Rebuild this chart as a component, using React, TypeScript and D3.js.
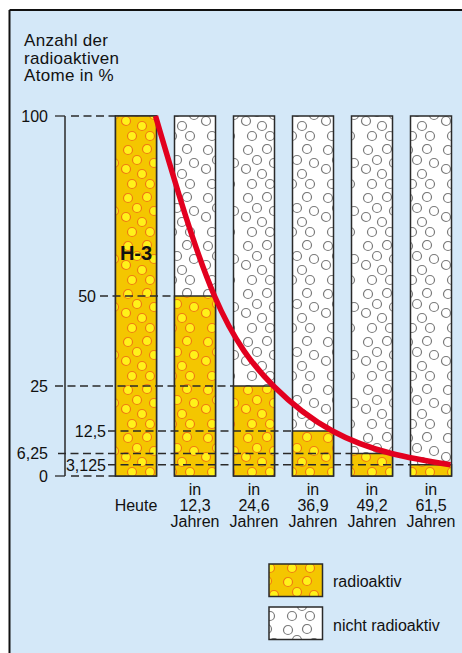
import React from "react";
import * as d3 from "d3";

const periods = ["Heute", "12,3", "24,6", "36,9", "49,2", "61,5"];
const radioactive = [100, 50, 25, 12.5, 6.25, 3.125];
const tickValues = [100, 50, 25, 12.5, 6.25, 3.125, 0];
const tickLabels = ["100", "50", "25", "12,5", "6,25", "3,125", "0"];
const titleLines = ["Anzahl der", "radioaktiven", "Atome in %"];
const legendItems = ["radioaktiv", "nicht radioaktiv"];
const isotope = "H-3";

const W = 462;
const H = 653;
const FONT = "'Liberation Sans', Arial, Helvetica, sans-serif";
const BG = "#d4e8f8";
const YELLOW = "#f4c600";
const DOT_FILL = "#fff21a";
const DOT_STROKE = "#f07a10";
const GRAY_DOT = "#7a7a7a";
const DARK = "#2a2a2a";
const RED = "#e2001f";

const dotPos: [number, number][] = [
  [8, 6], [27, 5], [17, 16], [34, 19], [6, 25], [22, 30], [12, 40], [30, 40],
];

// per-tick layout: label anchor end x, dash start x
const tickLayout: Record<string, { lx: number; dx: number; solid?: boolean }> = {
  "100": { lx: 48, dx: 55, solid: true },
  "0": { lx: 48, dx: 55, solid: true },
  "25": { lx: 48, dx: 55 },
  "6,25": { lx: 48, dx: 58 },
  "50": { lx: 96, dx: 100 },
  "12,5": { lx: 106, dx: 108 },
  "3,125": { lx: 106, dx: 108 },
};

function Dots({ fill, stroke }: { fill: string; stroke: string }) {
  return (
    <>
      {dotPos.map(([cx, cy], i) => (
        <g key={i}>
          {[-40, 0, 40].map((ox) =>
            [-48, 0, 48].map((oy) => (
              <circle
                key={ox + "_" + oy}
                cx={cx + ox}
                cy={cy + oy}
                r={4.5}
                fill={fill}
                stroke={stroke}
                strokeWidth={1.2}
              />
            ))
          )}
        </g>
      ))}
    </>
  );
}

export default function App() {
  const x = d3
    .scaleBand<string>()
    .domain(periods)
    .range([115.5, 451.5])
    .paddingInner(18 / 59)
    .paddingOuter(0);
  const y = d3.scaleLinear().domain([0, 100]).range([476, 116]);
  const bw = x.bandwidth();

  const curvePts: [number, number][] = periods.map((p, i) => [
    (x(p) as number) + bw - 1,
    y(radioactive[i]),
  ]);
  const line = d3.line().curve(d3.curveNatural)(curvePts) || "";

  const barForValue = (v: number) => {
    const i = radioactive.indexOf(v);
    return i < 0 ? 0 : i;
  };

  const axisX = 65;

  return (
    <svg
      width={W}
      height={H}
      style={{ position: "absolute", left: 0, top: 0, background: "#fff" }}
      fontFamily={FONT}
    >
      <defs>
        <pattern id="radio" patternUnits="userSpaceOnUse" width={40} height={48}>
          <rect width={40} height={48} fill={YELLOW} />
          <Dots fill={DOT_FILL} stroke={DOT_STROKE} />
        </pattern>
        <pattern id="stable" patternUnits="userSpaceOnUse" width={40} height={48}>
          <rect width={40} height={48} fill="#fff" />
          <Dots fill="#fff" stroke={GRAY_DOT} />
        </pattern>
      </defs>

      {/* frame */}
      <rect x={10} y={11} width={W} height={H} fill={BG} />
      <line x1={9.5} y1={10} x2={W} y2={10} stroke="#111" strokeWidth={2} />
      <line x1={9.5} y1={10} x2={9.5} y2={H} stroke="#111" strokeWidth={2} />

      {/* title */}
      <text fontSize={17} fill="#111" letterSpacing={0.3}>
        {titleLines.map((t, i) => (
          <tspan key={i} x={24} y={46 + i * 17.6}>
            {t}
          </tspan>
        ))}
      </text>

      {/* bars */}
      {periods.map((p, i) => {
        const bx = x(p) as number;
        return (
          <g key={p}>
            <rect
              x={bx}
              y={y(100)}
              width={bw}
              height={y(0) - y(100)}
              fill="url(#stable)"
              stroke={DARK}
              strokeWidth={1.5}
            />
            <rect
              x={bx}
              y={y(radioactive[i])}
              width={bw}
              height={y(0) - y(radioactive[i])}
              fill="url(#radio)"
              stroke={DARK}
              strokeWidth={1.5}
            />
          </g>
        );
      })}

      {/* axis */}
      <line x1={axisX} y1={y(100)} x2={axisX} y2={y(0)} stroke={DARK} strokeWidth={1.5} />

      {/* ticks, labels, dashed guides */}
      {tickValues.map((v, i) => {
        const lab = tickLabels[i];
        const lay = tickLayout[lab];
        const yy = y(v);
        const bi = barForValue(v);
        const endX = x(periods[bi]) as number;
        return (
          <g key={lab}>
            <text
              x={lay.lx}
              y={yy}
              dy="0.36em"
              textAnchor="end"
              fontSize={16}
              fill="#111"
            >
              {lab}
            </text>
            {lay.solid ? (
              <>
                <line x1={lay.dx} y1={yy} x2={axisX} y2={yy} stroke={DARK} strokeWidth={1.3} />
                <line
                  x1={axisX + 6}
                  y1={yy}
                  x2={endX}
                  y2={yy}
                  stroke={DARK}
                  strokeWidth={1.3}
                  strokeDasharray="8 4.5"
                />
              </>
            ) : (
              <line
                x1={lay.dx}
                y1={yy}
                x2={endX}
                y2={yy}
                stroke={DARK}
                strokeWidth={1.3}
                strokeDasharray="8 4.5"
              />
            )}
          </g>
        );
      })}

      {/* isotope label */}
      <text
        x={(x(periods[0]) as number) + bw / 2}
        y={260}
        textAnchor="middle"
        fontSize={20}
        fontWeight="bold"
        fill="#111"
      >
        {isotope}
      </text>

      {/* decay curve */}
      <path d={line} fill="none" stroke={RED} strokeWidth={5.5} strokeLinecap="butt" />

      {/* x labels */}
      {periods.map((p, i) => {
        const cx = (x(p) as number) + bw / 2;
        if (i === 0) {
          return (
            <text key={p} x={cx} y={511} textAnchor="middle" fontSize={16} fill="#111">
              {p}
            </text>
          );
        }
        return (
          <text key={p} textAnchor="middle" fontSize={16} fill="#111">
            <tspan x={cx} y={495}>in</tspan>
            <tspan x={cx} y={511}>{p}</tspan>
            <tspan x={cx} y={526.5}>Jahren</tspan>
          </text>
        );
      })}

      {/* legend */}
      {legendItems.map((t, i) => (
        <g key={t}>
          <rect
            x={269}
            y={564 + i * 43}
            width={53.5}
            height={32.5}
            fill={i === 0 ? "url(#radio)" : "url(#stable)"}
            stroke={DARK}
            strokeWidth={1.5}
          />
          <text x={333} y={587 + i * 43.5} fontSize={16} fill="#111">
            {t}
          </text>
        </g>
      ))}
    </svg>
  );
}
